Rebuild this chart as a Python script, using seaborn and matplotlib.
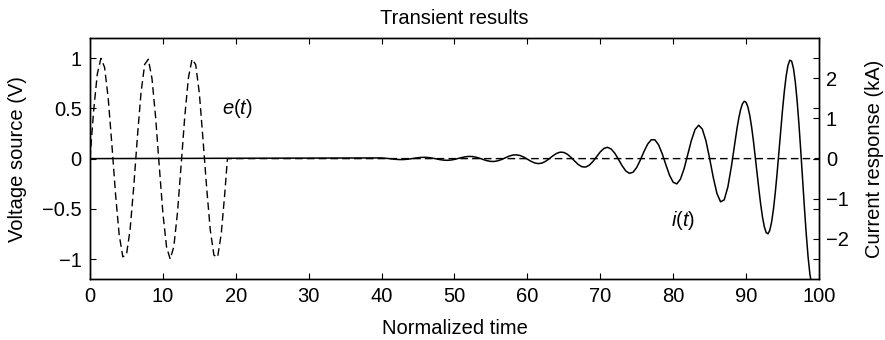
import matplotlib
matplotlib.use("Agg")
import matplotlib.pyplot as plt
import seaborn as sns

# voltage source e(t)
e_time = [0, 0.5, 1, 1.5, 2, 2.5, 3, 3.5, 4, 4.5, 5, 5.5, 6, 6.5, 7, 7.5, 8, 8.5, 9, 9.5,
          10, 10.5, 11, 11.5, 12, 12.5, 13, 13.5, 14, 14.5, 15, 15.5, 16, 16.5, 17, 17.5,
          18, 18.5, 18.85, 100]
e_volt = [0, 0.479, 0.842, 0.998, 0.909, 0.599, 0.141, -0.351, -0.757, -0.978, -0.959,
          -0.706, -0.279, 0.215, 0.657, 0.938, 0.989, 0.799, 0.412, -0.075,
          -0.544, -0.880, -1.0, -0.876, -0.537, -0.066, 0.420, 0.804, 0.991, 0.935,
          0.650, 0.191, -0.288, -0.712, -0.961, -0.983, -0.751, -0.338, 0, 0]

# current response i(t) in kA
i_time = [0, 40, 40.5, 41, 41.5, 42, 42.5, 43, 43.5, 44, 44.5, 45, 45.5, 46, 46.5, 47, 47.5,
          48, 48.5, 49, 49.5, 50, 50.5, 51, 51.5, 52, 52.5, 53, 53.5, 54, 54.5, 55, 55.5,
          56, 56.5, 57, 57.5, 58, 58.5, 59, 59.5, 60, 60.5, 61, 61.5, 62, 62.5, 63, 63.5,
          64, 64.5, 65, 65.5, 66, 66.5, 67, 67.5, 68, 68.5, 69, 69.5, 70, 70.5, 71, 71.5,
          72, 72.5, 73, 73.5, 74, 74.5, 75, 75.5, 76, 76.5, 77, 77.5, 78, 78.5, 79, 79.5,
          80, 80.5, 81, 81.5, 82, 82.5, 83, 83.5, 84, 84.5, 85, 85.5, 86, 86.5, 87, 87.5,
          88, 88.25, 88.5, 88.75, 89, 89.25, 89.5, 89.75, 90, 90.25, 90.5, 90.75,
          91, 91.25, 91.5, 91.75, 92, 92.25, 92.5, 92.75, 93, 93.25, 93.5, 93.75,
          94, 94.25, 94.5, 94.75, 95, 95.25, 95.5, 95.75, 96, 96.25, 96.5, 96.75,
          97, 97.25, 97.5, 97.75, 98, 98.25, 98.5, 98.75, 99, 99.25]
i_curr = [0, 0.017, 0.010, 0.001, -0.010, -0.019, -0.024, -0.023, -0.016, -0.005, 0.010,
          0.022, 0.031, 0.032, 0.025, 0.011, -0.007,
          -0.025, -0.038, -0.042, -0.036, -0.020, 0.003, 0.027, 0.046, 0.055, 0.051,
          0.033, 0.006, -0.026, -0.054, -0.070, -0.070,
          -0.052, -0.019, 0.023, 0.062, 0.088, 0.094, 0.077, 0.038, -0.014, -0.067,
          -0.108, -0.125, -0.111, -0.067, -0.002, 0.069,
          0.129, 0.161, 0.154, 0.107, 0.028, -0.065, -0.150, -0.204, -0.210, -0.163,
          -0.070, 0.050, 0.168, 0.253, 0.281, 0.238,
          0.131, -0.020, -0.179, -0.307, -0.367, -0.338, -0.219, -0.033, 0.178, 0.362,
          0.470, 0.466, 0.342, 0.119, -0.155, -0.415,
          -0.590, -0.629, -0.510, -0.249, 0.100, 0.454, 0.724, 0.831, 0.734, 0.439,
          0.004, -0.471, -0.867, -1.076, -1.026, -0.708,
          -0.179, 0.130, 0.444, 0.746, 1.009, 1.221, 1.365, 1.427, 1.401, 1.284, 1.080, 0.797,
          0.451, 0.061, -0.350, -0.757, -1.133, -1.454, -1.695, -1.839, -1.871, -1.785, -1.581, -1.267,
          -0.857, -0.375, 0.152, 0.693, 1.214, 1.680, 2.058, 2.322, 2.450, 2.426, 2.245, 1.913,
          1.443, 0.861, 0.197, -0.508, -1.212, -1.869, -2.435, -2.871, -3.142, -3.224]

x_ticks = [0, 10, 20, 30, 40, 50, 60, 70, 80, 90, 100]
v_ticks = [-1, -0.5, 0, 0.5, 1]
v_labels = ["\u22121", "\u22120.5", "0", "0.5", "1"]
c_ticks = [-2, -1, 0, 1, 2]
c_labels = ["\u22122", "\u22121", "0", "1", "2"]

sns.set_style("ticks", {"xtick.direction": "in", "ytick.direction": "in"})
plt.rcParams["font.family"] = ["Liberation Sans", "DejaVu Sans"]
plt.rcParams["mathtext.fontset"] = "custom"
plt.rcParams["mathtext.rm"] = "Liberation Sans"
plt.rcParams["mathtext.it"] = "Liberation Sans:italic"
plt.rcParams["text.color"] = "black"
plt.rcParams["axes.labelcolor"] = "black"
fs = 14.5

fig = plt.figure(figsize=(8.85, 3.4), dpi=100)
ax = fig.add_subplot(111)
fig.subplots_adjust(left=0.1017, right=0.9254, top=0.888, bottom=0.179)
ax2 = ax.twinx()

sns.lineplot(x=e_time, y=e_volt, ax=ax, color="black", linewidth=1.0,
             linestyle=(0, (5.5, 3)), sort=False, estimator=None)
sns.lineplot(x=i_time, y=i_curr, ax=ax2, color="black", linewidth=1.1,
             sort=False, estimator=None)

ax.set_xlim(0, 100)
ax.set_ylim(-1.2, 1.2)
ax2.set_ylim(-3, 3)
ax.set_xticks(x_ticks)
ax.set_yticks(v_ticks)
ax.set_yticklabels(v_labels)
ax2.set_yticks(c_ticks)
ax2.set_yticklabels(c_labels)

ax.tick_params(axis="both", direction="in", length=4, width=0.8, labelsize=fs,
               top=True, right=True, colors="black", pad=6)
ax2.tick_params(axis="y", direction="in", length=4, width=0.8, labelsize=fs,
                colors="black", pad=5)

for a in (ax, ax2):
    for s in a.spines.values():
        s.set_visible(True)
        s.set_linewidth(1.0)
        s.set_color("black")

ax.set_xlabel("Normalized time", fontsize=fs, labelpad=9)
ax.set_ylabel("Voltage source (V)", fontsize=fs, labelpad=11)
ax2.set_ylabel("Current response (kA)", fontsize=fs, labelpad=12)
ax.set_title("Transient results", fontsize=fs, pad=10)

ax.text(18.1, 0.5, r"$e(t)$", fontsize=fs, ha="left", va="center")
ax2.text(81.4, -1.55, r"$i(t)$", fontsize=fs, ha="center", va="center")

fig.savefig("out.png", dpi=100)
